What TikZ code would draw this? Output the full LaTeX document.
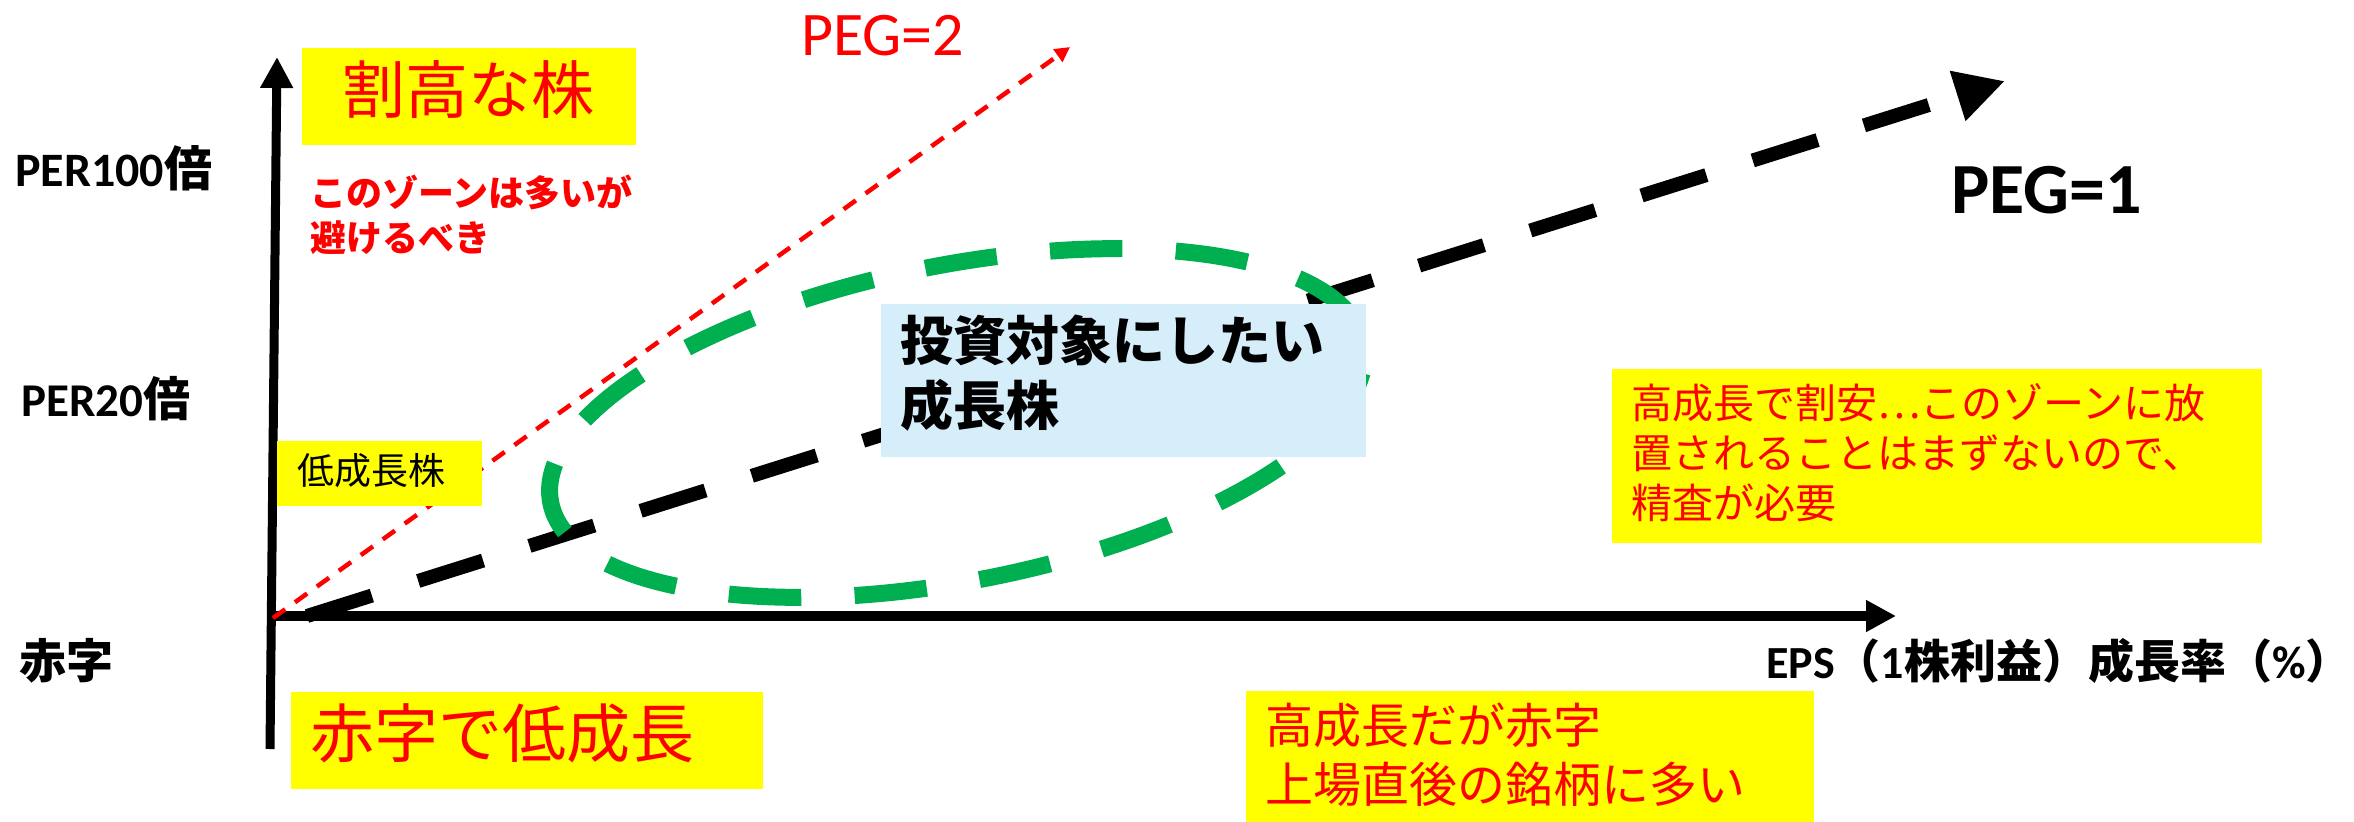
\documentclass[tikz,border=0pt]{standalone}
\usepackage{fontspec}
\usetikzlibrary{arrows.meta}
\newfontfamily\jp{Noto Sans CJK JP}
\newfontfamily\lat{Carlito}
\newcommand{\fs}[2]{\fontsize{#1pt}{#2pt}\selectfont}
\newcommand{\boxtxt}[5]{\vbox to #2pt{\hsize=#1pt\relax\leftskip=#3pt\relax\parindent=0pt\vskip#4pt\relax\noindent#5\par\vfil}}
\definecolor{pgreen}{HTML}{00B050}
\definecolor{pblue}{RGB}{214,237,250}
\definecolor{pyellow}{HTML}{FFFF00}
\definecolor{pred}{HTML}{FF0000}
\begin{document}
\begin{tikzpicture}[x=1pt,y=1pt,
  txt/.style={inner sep=0pt, anchor=north west},
  btxt/.style={inner sep=0pt, anchor=base west},
  box/.style={inner sep=0pt, anchor=north west},
  axisline/.style={draw=black},
  pegtwo/.style={draw=pred, line width=4.5pt, dash pattern=on 15pt off 12pt, -{Triangle[length=15pt,width=15pt]}},
  pegone/.style={draw=black, line width=14pt, dash pattern=on 68pt off 48.6pt, -{Triangle[length=49.7pt,width=49pt]}},
  zoneline/.style={draw=pgreen, line width=17pt, dash pattern=on 72.5pt off 53.4pt, dash phase=102.7pt}]
\fill[white] (0,0) rectangle (2354,-822);
\useasboundingbox (0,0) rectangle (2354,-822);
% coordinates
\coordinate (ybot) at (270,-749);
\coordinate (ytop) at (277,-57);
\coordinate (xl) at (268,-616);
\coordinate (xtip) at (1896,-616);
\coordinate (O) at (273,-618);
\coordinate (r2) at (1070,-47);
\coordinate (p1s) at (307,-616);
\coordinate (p1e) at (2005,-81);
% axes
\draw[axisline, line width=9pt, -{Triangle[length=31pt,width=31pt]}] (ybot) -- (ytop);
\draw[axisline, line width=10pt, -{Triangle[length=30pt,width=30pt]}] (xl) -- (xtip);
% PEG lines
\draw[pegtwo] (O) -- (r2);
\draw[pegone] (p1s) -- (p1e);
% target zone
\draw[zoneline, rotate around={11.1:(957,-423)}] (957,-423) ellipse [x radius=414, y radius=158];
% boxes
\node[box, fill=pyellow] (b1) at (302,-48) {\boxtxt{334}{97}{40}{12}{\jp\color{pred}\fs{63}{70}割高な株}};
\node[box, fill=pyellow] (b2) at (277,-441) {\boxtxt{205}{65}{20}{12}{\jp\fs{37}{44}低成長株}};
\node[box, fill=pyellow] (b3) at (291,-692) {\boxtxt{472}{97}{19}{11}{\jp\color{pred}\fs{64}{72}赤字で低成長}};
\node[box, fill=pblue] (b4) at (881,-304) {\boxtxt{485}{153}{19}{11}{\jp\bfseries\fs{53}{65}投資対象にしたい\\成長株}};
\node[box, fill=pyellow] (b5) at (1612,-369) {\boxtxt{650}{174}{19}{14}{\jp\color{pred}\fs{41}{50}高成長で割安…このゾーンに放\\置されることはまずないので、\\精査が必要}};
\node[box, fill=pyellow] (b6) at (1246,-691) {\boxtxt{568}{131}{19}{12}{\jp\color{pred}\fs{48}{59}高成長だが赤字\\上場直後の銘柄に多い}};
% labels
\node[btxt, font=\lat\bfseries\fs{48}{56}] (per100) at (15,-186) {PER100{\jp 倍}};
\node[btxt, font=\lat\bfseries\fs{47}{55}] (per20) at (21,-416) {PER20{\jp 倍}};
\node[txt, font=\jp\bfseries\fs{47}{55}] (aka) at (19,-638) {赤字};
\node[txt, align=left, text=pred, font=\jp\bfseries\fs{36}{45}] (zone) at (310,-175) {このゾーンは多いが\\避けるべき};
\node[btxt, text=pred, font=\lat\fs{62}{70}] (peg2) at (801,-55) {PEG=2};
\node[btxt, font=\lat\bfseries\fs{72}{80}] (peg1) at (1951,-213) {PEG=1};
\node[txt, font=\jp\bfseries\fs{46}{55}] (xlab) at (1766,-638) {{\lat EPS}（{\lat 1}株利益）成長率（{\lat\%}）};
\end{tikzpicture}
\end{document}
